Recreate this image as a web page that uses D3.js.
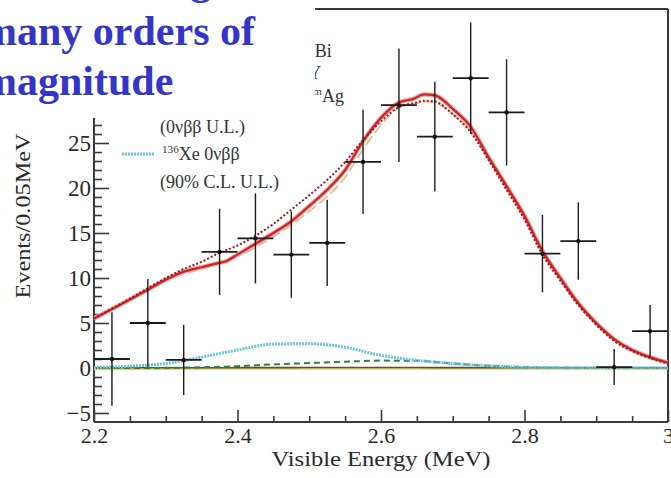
<!DOCTYPE html>
<html>
<head>
<meta charset="utf-8">
<script src="https://cdnjs.cloudflare.com/ajax/libs/d3/7.8.5/d3.min.js"></script>
<style>
  body { margin: 0; background: #fff; }
  svg { display: block; }
</style>
</head>
<body>
<div id="chart"></div>
<script>
// data points (bin centres, 0.05 MeV bins)
var binCenters = [2.225, 2.275, 2.325, 2.375, 2.425, 2.475, 2.525, 2.575,
                  2.625, 2.675, 2.725, 2.775, 2.825, 2.875, 2.925, 2.975];
var counts = [1.0, 5.0, 0.9, 12.9, 14.4, 12.6, 13.9, 22.9,
              29.2, 25.7, 32.2, 28.4, 12.7, 14.1, 0.1, 4.1];
var errors = [5.2, 4.9, 3.9, 4.8, 5.0, 4.8, 4.8, 5.8,
              6.3, 6.1, 6.2, 5.9, 4.3, 4.3, 2.0, 2.9];

// total fit (solid red)
var totE = [2.2, 2.25, 2.275, 2.3, 2.325, 2.35, 2.37, 2.385, 2.4, 2.425, 2.45, 2.475, 2.5, 2.525,
            2.55, 2.575, 2.6, 2.625, 2.645, 2.66, 2.675, 2.7, 2.725, 2.75, 2.775, 2.8, 2.825,
            2.85, 2.875, 2.9, 2.925, 2.95, 2.975, 3.0];
var totV = [5.5, 7.6, 8.7, 9.8, 10.7, 11.2, 11.6, 11.9, 12.6, 13.8, 15.0, 16.3, 18.0, 19.8,
            22.0, 25.2, 27.8, 29.5, 29.9, 30.4, 30.3, 28.8, 26.8, 23.4, 20.2, 16.9, 13.0,
            10.0, 7.2, 5.0, 3.2, 2.0, 1.2, 0.6];

// total with 0vbb upper limit (dotted red)
var dotE = [2.2, 2.25, 2.3, 2.325, 2.35, 2.375, 2.4, 2.425, 2.45, 2.475, 2.5, 2.525, 2.55, 2.575,
            2.6, 2.625, 2.65, 2.66, 2.675, 2.7, 2.725, 2.75, 2.775, 2.8, 2.825, 2.85, 2.875,
            2.9, 2.925, 2.95, 2.975, 3.0];
var dotV = [5.5, 7.7, 10.0, 11.0, 11.8, 12.8, 13.6, 14.7, 16.0, 17.6, 19.2, 20.9, 22.9, 25.3,
            27.4, 29.0, 29.5, 29.7, 29.6, 28.2, 26.2, 23.1, 19.8, 16.5, 12.6, 9.7, 7.0,
            4.8, 3.0, 1.9, 1.1, 0.5];

// 110mAg (light dashed)
var dashE = [2.2, 2.3, 2.4, 2.45, 2.5, 2.55, 2.575, 2.6, 2.625, 2.65, 2.66, 2.675, 2.7, 2.725,
             2.75, 2.8, 2.85, 2.9, 2.95, 3.0];
var dashV = [5.4, 9.7, 12.4, 14.6, 17.4, 21.2, 24.3, 27.0, 28.9, 29.4, 29.6, 29.5, 28.2, 26.3,
             23.2, 16.6, 9.8, 4.9, 1.9, 0.5];

// small components
var compE = [2.2, 2.25, 2.3, 2.35, 2.4, 2.45, 2.5, 2.55, 2.6, 2.65, 2.7, 2.75, 2.8, 2.85, 2.9, 2.95, 3.0];
var xe0v = [0.05, 0.2, 0.5, 1.2, 2.0, 2.65, 2.7, 2.3, 1.4, 0.85, 0.5, 0.25, 0.08, 0.04, 0.03, 0.02, 0.02];
var greenV = [0, 0, 0.02, 0.08, 0.2, 0.4, 0.55, 0.7, 0.82, 0.8, 0.5, 0.25, 0.08, 0.03, 0.01, 0, 0];
var brownV = [0.02, 0.02, 0.03, 0.03, 0.04, 0.04, 0.05, 0.05, 0.05, 0.05, 0.04, 0.04, 0.03, 0.03, 0.02, 0.02, 0.02];
var yellowV = [-0.15, -0.15, -0.12, -0.1, -0.1, -0.1, -0.1, -0.1, -0.1, -0.1, -0.1, -0.1, -0.1, -0.1, -0.1, -0.1, -0.1];

var xTicks = [2.2, 2.4, 2.6, 2.8, 3.0];
var yTicks = [-5, 0, 5, 10, 15, 20, 25];

var W = 671, H = 478;
var pLeft = 94, pRight = 668, pTop = 8, pBottom = 422;
var serif = "'Liberation Serif', 'Times New Roman', serif";

var svg = d3.select("#chart").append("svg")
  .attr("width", W)
  .attr("height", H)
  .style("background", "#fff");

var x = d3.scaleLinear().domain([2.2, 3.0]).range([pLeft, pRight]);
var y = d3.scaleLinear().domain([-6, 40]).range([pBottom, pTop]);

var frameTop = 118; // upper left of the axis is hidden by the slide text

// frame
var frame = svg.append("g").attr("stroke", "#3a3a3a").attr("stroke-width", 2).attr("fill", "none");
frame.append("line").attr("x1", pLeft).attr("x2", pLeft).attr("y1", frameTop).attr("y2", pBottom);
frame.append("line").attr("x1", pLeft).attr("x2", pRight).attr("y1", pBottom).attr("y2", pBottom);
frame.append("line").attr("x1", pRight).attr("x2", pRight).attr("y1", pTop + 1).attr("y2", pBottom);
frame.append("line").attr("x1", 315).attr("x2", pRight).attr("y1", pTop + 1).attr("y2", pTop + 1);

// x axis
var xAxis = d3.axisBottom(x)
  .tickValues(xTicks)
  .tickSizeInner(-12)
  .tickSizeOuter(0)
  .tickPadding(5)
  .tickFormat(function(d) { return d === 3 ? "3" : d3.format(".1f")(d); });
var gx = svg.append("g").attr("transform", "translate(0," + pBottom + ")").call(xAxis);
gx.select(".domain").remove();

var xMinor = d3.range(2.25, 3.0, 0.05).filter(function(d) {
  return Math.abs(d * 5 - Math.round(d * 5)) > 1e-6;
});
var gxm = svg.append("g").attr("transform", "translate(0," + pBottom + ")")
  .call(d3.axisBottom(x).tickValues(xMinor).tickSizeInner(-6).tickSizeOuter(0).tickFormat(""));
gxm.select(".domain").remove();

// y axis
var yAxis = d3.axisLeft(y)
  .tickValues(yTicks)
  .tickSizeInner(-15)
  .tickSizeOuter(0)
  .tickPadding(3);
var gy = svg.append("g").attr("transform", "translate(" + pLeft + ",0)").call(yAxis);
gy.select(".domain").remove();

var yMinor = d3.range(-5, 28, 1).filter(function(d) { return d % 5 !== 0; });
var gym = svg.append("g").attr("transform", "translate(" + pLeft + ",0)")
  .call(d3.axisLeft(y).tickValues(yMinor).tickSizeInner(-8).tickSizeOuter(0).tickFormat(""));
gym.select(".domain").remove();

svg.selectAll(".tick line").attr("stroke", "#3a3a3a").attr("stroke-width", 1.6);
gy.selectAll(".tick text")
  .attr("font-family", serif)
  .attr("font-size", 23)
  .attr("fill", "#2a2a2a");
gx.selectAll(".tick text")
  .attr("font-family", serif)
  .attr("font-size", 22)
  .attr("fill", "#2a2a2a");

// axis titles
svg.append("text")
  .attr("x", (pLeft + pRight) / 2)
  .attr("y", 466)
  .attr("text-anchor", "middle")
  .attr("font-family", serif)
  .attr("font-size", 20)
  .attr("textLength", 219)
  .attr("lengthAdjust", "spacingAndGlyphs")
  .attr("fill", "#2a2a2a")
  .text("Visible Energy (MeV)");

svg.append("text")
  .attr("transform", "translate(30,216) rotate(-90)")
  .attr("text-anchor", "middle")
  .attr("font-family", serif)
  .attr("font-size", 21)
  .attr("textLength", 165)
  .attr("lengthAdjust", "spacingAndGlyphs")
  .attr("fill", "#2a2a2a")
  .text("Events/0.05MeV");

// curves
svg.append("clipPath").attr("id", "plotclip")
  .append("rect").attr("x", pLeft).attr("y", pTop).attr("width", pRight - pLeft).attr("height", pBottom - pTop);

var plot = svg.append("g").attr("clip-path", "url(#plotclip)");

function lineOf(es, vs) {
  return d3.line()
    .x(function(d, i) { return x(es[i]); })
    .y(function(d) { return y(d); })
    .curve(d3.curveMonotoneX)(vs);
}

plot.append("path").attr("d", lineOf(compE, yellowV))
  .attr("fill", "none").attr("stroke", "#e2d27a").attr("stroke-width", 1.6);
plot.append("path").attr("d", lineOf(compE, brownV))
  .attr("fill", "none").attr("stroke", "#6b4a2e").attr("stroke-width", 1.6);
plot.append("path").attr("d", lineOf(compE, greenV))
  .attr("fill", "none").attr("stroke", "#2e8040").attr("stroke-width", 2)
  .attr("stroke-dasharray", "6,4");
plot.append("path").attr("d", lineOf(compE, xe0v))
  .attr("fill", "none").attr("stroke", "#6cc4d8").attr("stroke-width", 3)
  .attr("stroke-dasharray", "2,1");

plot.append("path").attr("d", lineOf(dashE, dashV))
  .attr("fill", "none").attr("stroke", "#f0b896").attr("stroke-width", 1.8)
  .attr("stroke-dasharray", "11,4");
plot.append("path").attr("d", lineOf(totE, totV))
  .attr("fill", "none").attr("stroke", "#f2a8a8").attr("stroke-width", 4.5);
plot.append("path").attr("d", lineOf(totE, totV))
  .attr("fill", "none").attr("stroke", "#cc2424").attr("stroke-width", 2.2);
plot.append("path").attr("d", lineOf(dotE, dotV))
  .attr("fill", "none").attr("stroke", "#9e1a22").attr("stroke-width", 2)
  .attr("stroke-dasharray", "2,2");

// data with error bars
var pts = plot.append("g").attr("stroke", "#1c1c1c");
binCenters.forEach(function(e, i) {
  pts.append("line")
    .attr("x1", x(e)).attr("x2", x(e))
    .attr("y1", y(counts[i] + errors[i])).attr("y2", y(counts[i] - errors[i]))
    .attr("stroke-width", 1.4);
  pts.append("line")
    .attr("x1", x(e - 0.025)).attr("x2", x(e + 0.025))
    .attr("y1", y(counts[i])).attr("y2", y(counts[i]))
    .attr("stroke-width", 1.8);
  pts.append("circle")
    .attr("cx", x(e)).attr("cy", y(counts[i])).attr("r", 2.2)
    .attr("fill", "#111").attr("stroke", "none");
});

// legend
function supText(g, xPos, yPos, parts, size) {
  var t = g.append("text")
    .attr("x", xPos).attr("y", yPos)
    .attr("font-family", serif)
    .attr("font-size", size)
    .attr("fill", "#333");
  parts.forEach(function(p) {
    if (p.sup) {
      t.append("tspan").attr("font-size", size * 0.62).attr("dy", -size * 0.38).text(p.t);
    } else {
      t.append("tspan").attr("dy", p.after ? size * 0.38 : 0).text(p.t);
    }
  });
  return t;
}

var legend = svg.append("g");
supText(legend, 160, 133, [{ t: "(0\u03bd\u03b2\u03b2 U.L.)" }], 18);
legend.append("line")
  .attr("x1", 122).attr("x2", 155).attr("y1", 154).attr("y2", 154)
  .attr("stroke", "#6cc4d8").attr("stroke-width", 3).attr("stroke-dasharray", "2,1");
supText(legend, 162, 160, [{ t: "136", sup: true }, { t: "Xe 0\u03bd\u03b2\u03b2", after: true }], 18);
supText(legend, 160, 188, [{ t: "(90% C.L. U.L.)" }], 18);

// second legend column, partly hidden behind the slide text
svg.append("clipPath").attr("id", "legclip")
  .append("rect").attr("x", 315).attr("y", 0).attr("width", 120).attr("height", 118);
var leg2 = svg.append("g").attr("clip-path", "url(#legclip)");
supText(leg2, 298, 57, [{ t: "208", sup: true }, { t: "Bi", after: true }], 18);
supText(leg2, 297, 79, [{ t: "88", sup: true }, { t: "Y", after: true }], 18);
supText(leg2, 297, 102, [{ t: "110m", sup: true }, { t: "Ag", after: true }], 18);

// slide headline over the chart
var head = svg.append("g")
  .attr("font-family", serif)
  .attr("font-weight", "bold")
  .attr("font-size", 42)
  .attr("fill", "#3535c8");
head.append("text").attr("x", 230).attr("y", -6).attr("text-anchor", "end").text("wide range");
head.append("text").attr("x", -18).attr("y", 45).text("many orders of");
head.append("text").attr("x", -18).attr("y", 95).text("magnitude");
</script>
</body>
</html>
